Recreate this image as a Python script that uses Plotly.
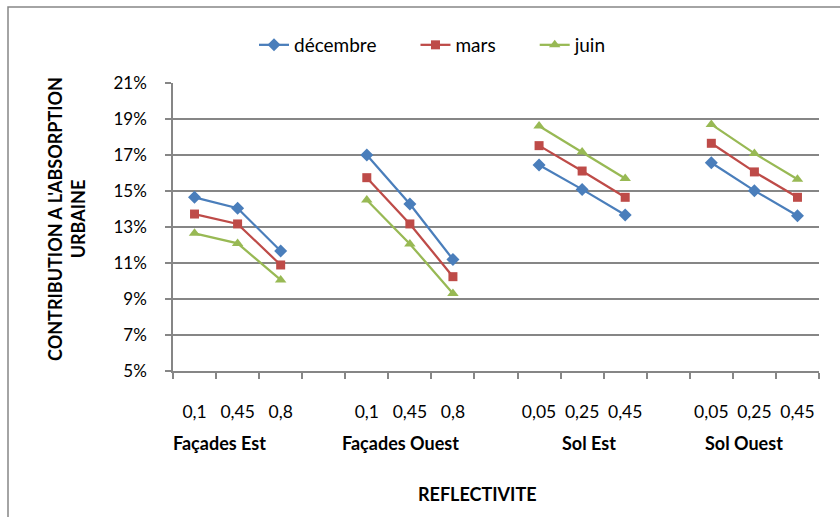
import plotly.graph_objects as go

groups = ["Façades Est", "Façades Ouest", "Sol Est", "Sol Ouest"]
reflectivity = [["0,1", "0,45", "0,8"], ["0,1", "0,45", "0,8"],
                ["0,05", "0,25", "0,45"], ["0,05", "0,25", "0,45"]]

decembre = [14.65, 14.04, 11.67, 17.0, 14.28, 11.2, 16.44, 15.09, 13.67, 16.57, 15.02, 13.63]
mars = [13.72, 13.17, 10.89, 15.74, 13.17, 10.24, 17.52, 16.11, 14.65, 17.65, 16.06, 14.65]
juin = [12.65, 12.09, 10.06, 14.5, 12.06, 9.31, 18.61, 17.17, 15.69, 18.7, 17.09, 15.65]

y_ticks = [5, 7, 9, 11, 13, 15, 17, 19, 21]
y_ticktext = ["5%", "7%", "9%", "11%", "13%", "15%", "17%", "19%", "21%"]

PAD = "\u00a0" * 7
series = [
    ("décembre", decembre, "#4A7EBB", "diamond", 10, PAD),
    ("mars", mars, "#BE4B48", "square", 9, PAD),
    ("juin", juin, "#98B954", "triangle-up", 10, ""),
]

# category positions: 3 per group, one blank slot between groups
xpos = []
tickvals = []
ticktext = []
for g, labels in enumerate(reflectivity):
    for k, lab in enumerate(labels):
        xpos.append(g * 4 + k)
        tickvals.append(g * 4 + k)
        ticktext.append(lab)


def with_gaps(values):
    xs, ys = [], []
    for g in range(len(groups)):
        for k in range(3):
            xs.append(xpos[g * 3 + k])
            ys.append(values[g * 3 + k])
        xs.append(None)
        ys.append(None)
    return xs, ys


fig = go.Figure()
for name, vals, color, sym, size, pad in series:
    xs, ys = with_gaps(vals)
    fig.add_trace(go.Scatter(
        x=xs, y=ys, name=name + pad, mode="lines+markers",
        line=dict(color=color, width=2.25),
        marker=dict(symbol=sym, size=size, color=color),
        connectgaps=False,
    ))

FONT = "Lato, Carlito, Calibri, sans-serif"
GRID = "#868686"

fig.update_layout(
    width=840, height=517,
    margin=dict(l=173, r=21, t=83, b=146),
    paper_bgcolor="white", plot_bgcolor="white",
    font=dict(family=FONT, size=17, color="black"),
    showlegend=True,
    legend=dict(orientation="h", x=(433 - 173) / 646, xanchor="center", y=1.132, yanchor="middle",
                font=dict(size=19), bgcolor="rgba(0,0,0,0)"),
    xaxis=dict(
        range=[-0.5, 14.5], showgrid=False, zeroline=False, automargin=False,
        tickvals=tickvals, ticktext=ticktext, ticks="", ticklabelstandoff=24,
        tickfont=dict(size=17.5),
        showline=True, linecolor=GRID, linewidth=1.5,
        minor=dict(tickvals=[i - 0.5 for i in range(16)], ticks="outside",
                   ticklen=6, tickcolor=GRID, tickwidth=1.5),
    ),
    yaxis=dict(
        range=[5, 21], tickvals=y_ticks, ticktext=y_ticktext, automargin=False,
        showgrid=True, gridcolor=GRID, gridwidth=1.5, zeroline=False,
        showline=True, linecolor=GRID, linewidth=1.5,
        ticks="outside", ticklen=6, tickcolor=GRID, tickwidth=1.5,
        ticklabelstandoff=15, tickfont=dict(size=17),
    ),
)

# group labels
group_x = [0.58, 4.78, 9.17, 12.75]
for gx, gname in zip(group_x, groups):
    fig.add_annotation(x=gx, y=-0.25, xref="x", yref="paper", text="<b>%s</b>" % gname,
                       showarrow=False, font=dict(size=18), xanchor="center", yanchor="middle")

fig.add_annotation(x=(477 - 173) / 646, y=-0.427, xref="paper", yref="paper",
                   text="<b>REFLECTIVITE</b>",
                   showarrow=False, font=dict(size=18), xanchor="center", yanchor="middle")

fig.add_annotation(x=(67 - 173) / 646, y=0.528, xref="paper", yref="paper",
                   text="<b>CONTRIBUTION A L'ABSORPTION<br>URBAINE</b>",
                   textangle=-90, showarrow=False, font=dict(size=18),
                   xanchor="center", yanchor="middle")

# chart-area border (left and top edges visible in the frame)
fig.add_shape(type="rect", xref="paper", yref="paper",
              x0=(8 - 173) / 646, x1=(850 - 173) / 646,
              y0=-(530 - 371) / 288, y1=(371 - 7) / 288,
              line=dict(color="#868686", width=1.5), fillcolor="rgba(0,0,0,0)", layer="below")

fig.write_html("out.html", config={"displayModeBar": False},
               post_script="document.body.style.margin='0';")
